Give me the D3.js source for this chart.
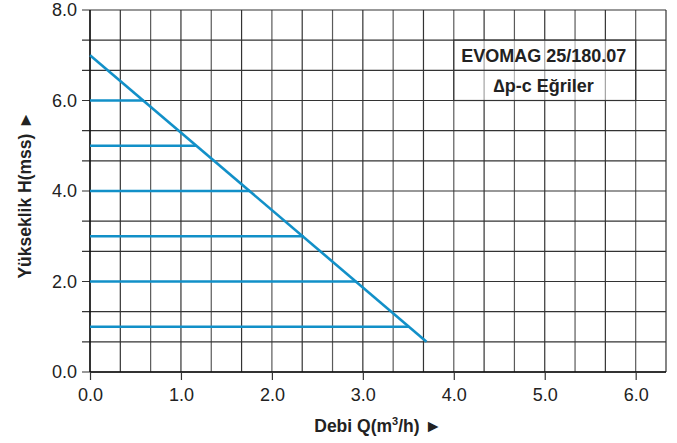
<!DOCTYPE html>
<html><head><meta charset="utf-8">
<script src="https://cdn.jsdelivr.net/npm/d3@7"></script>
<style>
body{margin:0;background:#fff;}
svg{display:block;font-family:"Liberation Sans",Arial,Helvetica,sans-serif;}
</style></head>
<body><svg id="c" width="677" height="443"></svg>
<script>
// ---- data ----
const xTickValues = [0, 1, 2, 3, 4, 5, 6];
const xTickLabels = ["0.0", "1.0", "2.0", "3.0", "4.0", "5.0", "6.0"];
const yTickValues = [0, 2, 4, 6, 8];
const yTickLabels = ["0.0", "2.0", "4.0", "6.0", "8.0"];
const curveQ = [0, 3.70];
const curveH = [7.0, 0.67];
const levelH = [6, 5, 4, 3, 2, 1];
const levelQ = [0.59, 1.17, 1.76, 2.35, 2.93, 3.51];
const titleLines = ["EVOMAG 25/180.07", "\u2206p-c E\u011friler"];
const xTitle = "Debi Q(m", xTitleSup = "3", xTitleEnd = "/h) \u25BA";
const yTitle = "Y\u00fckseklik H(mss) \u25BA";

// ---- scales ----
const svg = d3.select("#c");
const x = d3.scaleLinear().domain([0, 19/3]).range([90, 666]);
const y = d3.scaleLinear().domain([0, 8]).range([372, 10]);
const blue = "#1290c8";

const vGrid = d3.range(0, 20).map(k => k/3);
const hGrid = d3.range(0, 13).map(k => k*2/3);

svg.append("g").selectAll("line").data(vGrid).join("line")
  .attr("x1", d => x(d)).attr("x2", d => x(d))
  .attr("y1", y(0)).attr("y2", y(8))
  .attr("stroke", (d,i) => i%2 ? "#333" : "#5a5a5a").attr("stroke-width", 1.2);
svg.append("g").selectAll("line").data(hGrid).join("line")
  .attr("x1", x(0) - 8).attr("x2", x(19/3))
  .attr("y1", d => y(d)).attr("y2", d => y(d))
  .attr("stroke", "#333").attr("stroke-width", 1.2);

// legend box
const bx0 = x(4), bx1 = x(6), by0 = y(22/3), by1 = y(6);
svg.append("rect").attr("x", bx0).attr("y", by0).attr("width", bx1-bx0).attr("height", by1-by0)
  .attr("fill", "#fff").attr("fill-opacity", 0.55).attr("stroke", "#333").attr("stroke-width", 1.2);
svg.append("line").attr("x1", bx0).attr("x2", bx1).attr("y1", y(20/3)).attr("y2", y(20/3))
  .attr("stroke", "#333").attr("stroke-width", 1.2);
svg.append("g").selectAll("text").data(titleLines).join("text")
  .attr("x", (bx0+bx1)/2 - 1).attr("y", (d,i) => [62, 92][i])
  .attr("text-anchor", "middle").attr("font-size", 18).attr("font-weight", "bold")
  .attr("fill", "#222").text(d => d);

// axes frame
svg.append("line").attr("x1", x(0)).attr("x2", x(0)).attr("y1", y(0)).attr("y2", y(8))
  .attr("stroke", "#111").attr("stroke-width", 1.5);
svg.append("line").attr("x1", x(0)).attr("x2", x(19/3)).attr("y1", y(0)).attr("y2", y(0))
  .attr("stroke", "#111").attr("stroke-width", 1.5);

// x axis ticks
const xAxis = d3.axisBottom(x).tickValues(xTickValues)
  .tickFormat((d,i) => xTickLabels[i]).tickSize(8).tickPadding(8);
const gx = svg.append("g").attr("transform", `translate(0,${y(0)})`).call(xAxis);
gx.select(".domain").remove();
gx.selectAll(".tick line").attr("stroke", "#333").attr("stroke-width", 1.2);
gx.selectAll(".tick text").attr("font-size", 18).attr("fill", "#222")
  .attr("font-family", "Liberation Sans, Arial, sans-serif");

// y axis labels
const yAxis = d3.axisLeft(y).tickValues(yTickValues)
  .tickFormat((d,i) => yTickLabels[i]).tickSize(0).tickPadding(13);
const gy = svg.append("g").attr("transform", `translate(${x(0)},0)`).call(yAxis);
gy.select(".domain").remove();
gy.selectAll(".tick text").attr("font-size", 18).attr("fill", "#222")
  .attr("font-family", "Liberation Sans, Arial, sans-serif");

// curves
svg.append("g").selectAll("line").data(levelH).join("line")
  .attr("x1", x(0)).attr("x2", (d,i) => x(levelQ[i]))
  .attr("y1", d => y(d)).attr("y2", d => y(d))
  .attr("stroke", blue).attr("stroke-width", 2.6);
const line = d3.line().x(d => x(d[0])).y(d => y(d[1]));
svg.append("path").datum(curveQ.map((q,i) => [q, curveH[i]]))
  .attr("d", line).attr("fill", "none").attr("stroke", blue).attr("stroke-width", 2.6);

// titles
const xt = svg.append("text").attr("x", 378).attr("y", 432).attr("text-anchor", "middle")
  .attr("font-size", 17.5).attr("font-weight", "bold").attr("fill", "#222");
xt.append("tspan").text(xTitle);
xt.append("tspan").attr("font-size", 11).attr("dy", -7).text(xTitleSup);
xt.append("tspan").attr("dy", 7).text(xTitleEnd);

svg.append("text").attr("transform", "translate(31,195) rotate(-90)")
  .attr("text-anchor", "middle").attr("font-size", 17.5).attr("font-weight", "bold")
  .attr("fill", "#222").text(yTitle);
</script></body></html>
